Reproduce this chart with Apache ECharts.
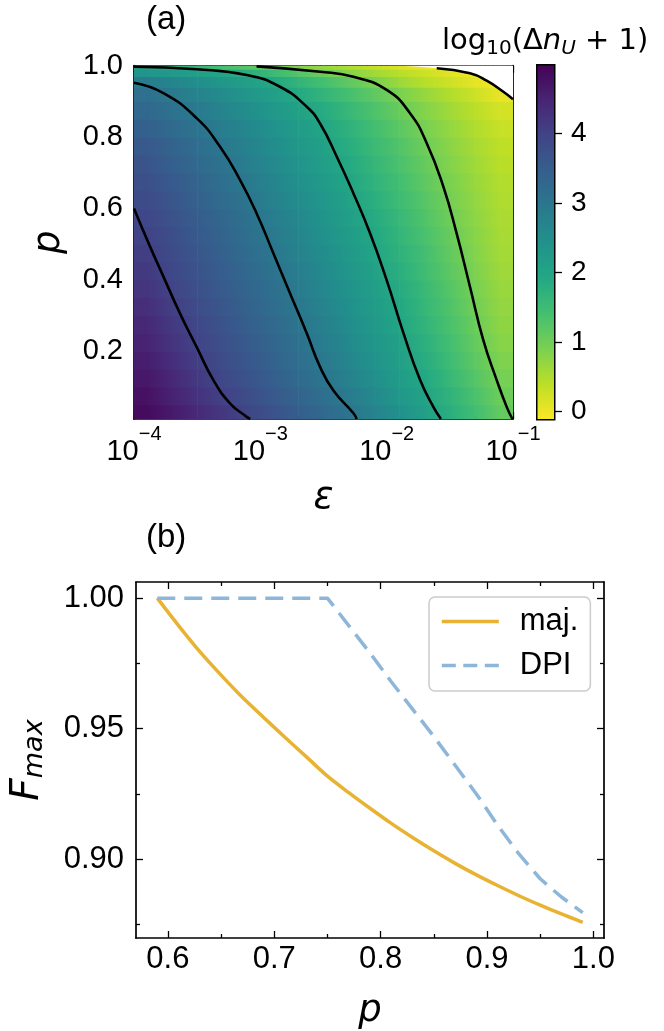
<!DOCTYPE html>
<html><head><meta charset="utf-8">
<script src="https://cdn.jsdelivr.net/npm/echarts@6/dist/echarts.min.js"></script>
<style>html,body{margin:0;padding:0;background:#fff}#c{width:664px;height:1031px}</style>
</head><body><div id="c"></div>
<script>
// ---------------- data ----------------
// panel (a): cell edges of the colour map
const epsEdges = [1.0e-4, 1.585e-4, 2.512e-4, 3.981e-4, 6.310e-4, 1.0e-3, 1.585e-3, 2.512e-3, 3.981e-3, 6.310e-3, 1.0e-2, 1.585e-2, 2.512e-2, 3.981e-2, 6.310e-2, 1.0e-1];
const pEdges = [0.01, 0.05, 0.10, 0.15, 0.20, 0.25, 0.30, 0.35, 0.40, 0.45, 0.50, 0.55, 0.60, 0.65, 0.70, 0.75, 0.80, 0.85, 0.90, 0.94, 0.97, 0.99, 1.00];
// log10(dn_U + 1), one row per p band (bottom to top), one value per eps band
const heatRows = [
  [4.86, 4.63, 4.40, 4.17, 3.94, 3.71, 3.48, 3.26, 3.03, 2.74, 2.44, 2.14, 1.81, 1.47, 1.12],
  [4.77, 4.52, 4.27, 4.02, 3.80, 3.58, 3.36, 3.13, 2.89, 2.61, 2.32, 2.04, 1.71, 1.37, 1.03],
  [4.68, 4.42, 4.16, 3.91, 3.69, 3.46, 3.24, 3.02, 2.75, 2.48, 2.21, 1.93, 1.60, 1.27, 0.95],
  [4.59, 4.33, 4.06, 3.83, 3.61, 3.39, 3.17, 2.94, 2.67, 2.41, 2.14, 1.85, 1.52, 1.19, 0.88],
  [4.50, 4.24, 3.98, 3.76, 3.54, 3.32, 3.10, 2.86, 2.60, 2.34, 2.08, 1.77, 1.44, 1.12, 0.81],
  [4.42, 4.15, 3.90, 3.69, 3.47, 3.26, 3.04, 2.79, 2.53, 2.27, 2.01, 1.70, 1.38, 1.06, 0.76],
  [4.33, 4.06, 3.83, 3.62, 3.40, 3.19, 2.97, 2.72, 2.47, 2.21, 1.95, 1.63, 1.32, 1.00, 0.72],
  [4.24, 3.98, 3.76, 3.55, 3.34, 3.13, 2.90, 2.65, 2.40, 2.15, 1.88, 1.57, 1.26, 0.95, 0.68],
  [4.16, 3.91, 3.70, 3.49, 3.28, 3.06, 2.83, 2.58, 2.34, 2.09, 1.81, 1.50, 1.20, 0.90, 0.64],
  [4.07, 3.84, 3.63, 3.42, 3.21, 3.00, 2.76, 2.52, 2.27, 2.03, 1.74, 1.44, 1.14, 0.85, 0.60],
  [3.99, 3.78, 3.57, 3.36, 3.15, 2.93, 2.69, 2.45, 2.21, 1.96, 1.67, 1.38, 1.09, 0.81, 0.57],
  [3.93, 3.72, 3.51, 3.30, 3.09, 2.86, 2.62, 2.38, 2.14, 1.88, 1.60, 1.31, 1.03, 0.77, 0.54],
  [3.85, 3.64, 3.43, 3.23, 3.02, 2.78, 2.54, 2.31, 2.07, 1.80, 1.52, 1.25, 0.97, 0.73, 0.51],
  [3.77, 3.56, 3.36, 3.15, 2.94, 2.70, 2.47, 2.23, 1.99, 1.72, 1.45, 1.18, 0.92, 0.68, 0.48],
  [3.68, 3.47, 3.27, 3.06, 2.84, 2.61, 2.38, 2.15, 1.91, 1.64, 1.37, 1.11, 0.85, 0.63, 0.43],
  [3.58, 3.38, 3.18, 2.97, 2.75, 2.53, 2.30, 2.08, 1.83, 1.56, 1.30, 1.03, 0.79, 0.57, 0.39],
  [3.44, 3.25, 3.06, 2.85, 2.64, 2.42, 2.21, 1.99, 1.73, 1.46, 1.20, 0.94, 0.71, 0.50, 0.31],
  [3.29, 3.10, 2.91, 2.71, 2.50, 2.30, 2.09, 1.86, 1.60, 1.34, 1.08, 0.84, 0.62, 0.42, 0.22],
  [3.12, 2.94, 2.74, 2.54, 2.34, 2.14, 1.92, 1.67, 1.42, 1.17, 0.92, 0.70, 0.49, 0.28, 0.05],
  [2.88, 2.70, 2.51, 2.32, 2.14, 1.93, 1.68, 1.43, 1.17, 0.93, 0.65, 0.45, 0.27, 0.08, -0.05],
  [2.35, 2.24, 2.13, 2.02, 1.80, 1.55, 1.29, 1.04, 0.82, 0.63, 0.45, 0.28, 0.12, -0.03, -0.08],
  [2.03, 1.84, 1.64, 1.44, 1.25, 1.05, 0.87, 0.70, 0.52, 0.35, 0.17, 0.00, -0.05, -0.08, -0.10]
];
const colorMin = -0.11, colorMax = 5.0;
// contour lines [eps, p]
const level4Line = [[1.00e-4,0.600],[1.34e-4,0.493],[1.71e-4,0.409],[2.31e-4,0.306],[3.13e-4,0.212],[4.25e-4,0.119],[5.75e-4,0.054],[7.80e-4,0.016],[8.32e-4,0.010]];
const level3Line = [[1.00e-4,0.952],[1.71e-4,0.923],[3.13e-4,0.853],[4.80e-4,0.773],[6.90e-4,0.680],[9.35e-4,0.586],[1.27e-3,0.474],[1.72e-3,0.362],[2.33e-3,0.250],[2.97e-3,0.156],[3.80e-3,0.089],[5.46e-3,0.026],[5.79e-3,0.010]];
const level2Line = [[1.00e-4,0.997],[3.13e-4,0.990],[7.80e-4,0.974],[1.43e-3,0.941],[2.33e-3,0.885],[2.97e-3,0.838],[4.03e-3,0.745],[5.46e-3,0.642],[7.40e-3,0.530],[1.00e-2,0.399],[1.36e-2,0.250],[1.84e-2,0.119],[2.34e-2,0.044],[2.69e-2,0.010]];
const level1Line = [[9.33e-4,0.998],[2.97e-3,0.983],[5.46e-3,0.969],[1.00e-2,0.932],[1.53e-2,0.867],[2.08e-2,0.782],[2.81e-2,0.661],[3.58e-2,0.530],[4.57e-2,0.380],[5.82e-2,0.231],[7.43e-2,0.119],[8.91e-2,0.044],[9.89e-2,0.010]];
const boundaryLine = [[1.20e-2,1.000],[2.49e-2,0.993],[4.57e-2,0.979],[6.19e-2,0.958],[8.39e-2,0.927],[1.00e-1,0.906]];
// ticks panel (a)
const epsMajorTicks = [1e-4, 1e-3, 1e-2, 1e-1];
const epsMinorTicks = [2e-4,3e-4,4e-4,5e-4,6e-4,7e-4,8e-4,9e-4,2e-3,3e-3,4e-3,5e-3,6e-3,7e-3,8e-3,9e-3,2e-2,3e-2,4e-2,5e-2,6e-2,7e-2,8e-2,9e-2];
const pTicksA = [0.2, 0.4, 0.6, 0.8];
const pLabelsA = [0.2, 0.4, 0.6, 0.8, 1.0];
const cbarTicks = [0, 1, 2, 3, 4];
// panel (b)
const pGrid = [0.59,0.61,0.63,0.65,0.67,0.69,0.71,0.73,0.75,0.77,0.79,0.81,0.83,0.85,0.87,0.89,0.91,0.93,0.95,0.97,0.99];
const majValues = [1.000,0.9895,0.9795,0.9705,0.9620,0.9543,0.9467,0.9393,0.9318,0.9255,0.9195,0.9137,0.9083,0.9032,0.8984,0.8940,0.8899,0.8860,0.8824,0.8790,0.8758];
const dpiValues = [1.000,1.000,1.000,1.000,1.000,1.000,1.000,1.000,1.000,0.9895,0.979,0.968,0.9575,0.947,0.936,0.925,0.913,0.902,0.8925,0.8855,0.8795];
const pTicksB = [0.6, 0.7, 0.8, 0.9, 1.0];
const pMinorB = [0.65, 0.75, 0.85, 0.95];
const fTicks = [0.90, 0.95, 1.00];
const fMinor = [0.875, 0.925, 0.975];

// ---------------- styling ----------------
const viridis = ['#440154','#482475','#414487','#355f8d','#2a788e','#21918c','#22a884','#44bf70','#7ad151','#bddf26','#fde725'];
const viridisR = viridis.slice().reverse();
const TF = 'Liberation Sans, Arial, sans-serif';
const MF = 'DejaVu Sans, sans-serif';
const BLK = '#000';
const nCols = epsEdges.length - 1;

const cells = [];
heatRows.forEach((row, j) => row.forEach((v, i) => cells.push([epsEdges[i], pEdges[j], v, i, j])));

function hidden(o) {
  return Object.assign({
    axisLine: {show: false, onZero: false}, axisTick: {show: false},
    axisLabel: {show: false}, splitLine: {show: false}
  }, o);
}
function tickAxis(o, values, len, withLine) {
  return Object.assign({
    axisLine: {show: !!withLine, onZero: false, lineStyle: {color: BLK, width: 1.7}},
    axisTick: {show: true, inside: true, length: len, customValues: values, lineStyle: {color: BLK, width: 1.3}},
    axisLabel: {show: false}, splitLine: {show: false}
  }, o);
}

const logLabel = {
  show: true, customValues: epsMajorTicks, margin: 5,
  formatter: v => { const e = Math.round(Math.log10(v)); return '{b|10}{s|' + (e < 0 ? '\u2212' + (-e) : e) + '}'; },
  rich: {
    b: {fontFamily: TF, fontSize: 29, color: BLK},
    s: {fontFamily: TF, fontSize: 20, color: BLK, padding: [0, 0, 36, 0]}
  }
};

const gridA = {left: 134, top: 65.7, width: 379, height: 353.3};
const gridB = {left: 131, top: 582, width: 473, height: 356};
const gridC = {left: 536, top: 64, width: 18, height: 355};

const xAxes = [
  // panel a
  tickAxis({gridIndex: 0, type: 'log', logBase: 10, min: 1e-4, max: 1e-1, position: 'bottom',
    axisLabel: logLabel, name: 'ε', nameLocation: 'middle', nameGap: 61,
    nameTextStyle: {fontFamily: MF, fontStyle: 'italic', fontSize: 37, color: BLK}}, epsMajorTicks, 7, true),
  tickAxis({gridIndex: 0, type: 'log', logBase: 10, min: 1e-4, max: 1e-1, position: 'bottom'}, epsMinorTicks, 4, false),
  tickAxis({gridIndex: 0, type: 'log', logBase: 10, min: 1e-4, max: 1e-1, position: 'top'}, epsMajorTicks, 7, true),
  tickAxis({gridIndex: 0, type: 'log', logBase: 10, min: 1e-4, max: 1e-1, position: 'top'}, epsMinorTicks, 4, false),
  // panel b
  tickAxis({gridIndex: 1, type: 'value', min: 0.57, max: 1.01, position: 'bottom',
    axisLabel: {show: true, customValues: pTicksB, margin: 6, fontFamily: TF, fontSize: 31, color: BLK, formatter: v => v.toFixed(1)},
    name: 'p', nameLocation: 'middle', nameGap: 55,
    nameTextStyle: {fontFamily: MF, fontStyle: 'italic', fontSize: 37, color: BLK}}, pTicksB, 7, true),
  tickAxis({gridIndex: 1, type: 'value', min: 0.57, max: 1.01, position: 'bottom'}, pMinorB, 4, false),
  tickAxis({gridIndex: 1, type: 'value', min: 0.57, max: 1.01, position: 'top'}, pTicksB, 7, true),
  tickAxis({gridIndex: 1, type: 'value', min: 0.57, max: 1.01, position: 'top'}, pMinorB, 4, false),
  // colour bar
  hidden({gridIndex: 2, type: 'value', min: 0, max: 1})
];

const yAxes = [
  tickAxis({gridIndex: 0, type: 'value', min: 0.01, max: 1.0, position: 'left',
    axisLabel: {show: true, customValues: pLabelsA, margin: 11, fontFamily: TF, fontSize: 29, color: BLK, formatter: v => v.toFixed(1)},
    name: 'p', nameLocation: 'middle', nameGap: 66, nameRotate: 90,
    nameTextStyle: {fontFamily: MF, fontStyle: 'italic', fontSize: 37, color: BLK}}, pTicksA, 7, true),
  tickAxis({gridIndex: 0, type: 'value', min: 0.01, max: 1.0, position: 'right'}, pTicksA, 7, true),
  tickAxis({gridIndex: 1, type: 'value', min: 0.8698, max: 1.0062, position: 'left',
    axisLabel: {show: true, customValues: fTicks, margin: 12, fontFamily: TF, fontSize: 31, color: BLK, formatter: v => v.toFixed(2)},
    name: '{i|F}{s|max}', nameLocation: 'middle', nameGap: 88, nameRotate: 90,
    nameTextStyle: {rich: {
      i: {fontFamily: MF, fontStyle: 'italic', fontSize: 39, color: BLK},
      s: {fontFamily: MF, fontStyle: 'italic', fontSize: 27, color: BLK, padding: [14, 0, 0, 0]}
    }}}, fTicks, 7, true),
  tickAxis({gridIndex: 1, type: 'value', min: 0.8698, max: 1.0062, position: 'left'}, fMinor, 4, false),
  tickAxis({gridIndex: 1, type: 'value', min: 0.8698, max: 1.0062, position: 'right'}, fTicks, 7, true),
  tickAxis({gridIndex: 1, type: 'value', min: 0.8698, max: 1.0062, position: 'right'}, fMinor, 4, false),
  // colour bar axis
  {gridIndex: 2, type: 'value', min: colorMin, max: colorMax, position: 'right',
    axisLine: {show: false, onZero: false},
    axisTick: {show: true, inside: false, length: 8, customValues: cbarTicks, lineStyle: {color: BLK, width: 1.3}},
    axisLabel: {show: true, customValues: cbarTicks, margin: 17, fontFamily: TF, fontSize: 28, color: BLK},
    splitLine: {show: false}}
];

function contour(data) {
  return {type: 'line', xAxisIndex: 0, yAxisIndex: 0, data: data, symbol: 'none', smooth: 0.5,
    lineStyle: {color: BLK, width: 2.6}, z: 4, silent: true};
}

// colour-map cells: each cell's colour comes from the visualMap; colours are shaded
// between neighbouring cell centres along eps so the map is drawn smoothly
function renderCell(params, api) {
  const i = api.value(3), j = api.value(4);
  const a = api.coord([epsEdges[i], pEdges[j]]);
  const b = api.coord([epsEdges[i + 1], pEdges[j + 1]]);
  const c = api.visual('color');
  const y = b[1] - 0.6, h = a[1] - b[1] + 1.2;
  const xc = (a[0] + b[0]) / 2;
  const kids = [];
  if (i === 0) kids.push({type: 'rect', shape: {x: a[0], y: y, width: xc - a[0] + 0.6, height: h}, style: {fill: c}});
  if (i < nCols - 1) {
    const n = api.coord([epsEdges[i + 2], pEdges[j]]);
    const xn = (b[0] + n[0]) / 2;
    const cn = api.visual('color', params.dataIndexInside + 1);
    kids.push({type: 'rect', shape: {x: xc, y: y, width: xn - xc + 0.6, height: h},
      style: {fill: new echarts.graphic.LinearGradient(0, 0, 1, 0, [{offset: 0, color: c}, {offset: 1, color: cn}])}});
  } else {
    kids.push({type: 'rect', shape: {x: xc, y: y, width: b[0] - xc, height: h}, style: {fill: c}});
  }
  return {type: 'group', children: kids};
}

const series = [
  {type: 'custom', xAxisIndex: 0, yAxisIndex: 0, data: cells, clip: true, z: 1, silent: true,
    encode: {x: 0, y: 1}, renderItem: renderCell},
  {type: 'line', xAxisIndex: 0, yAxisIndex: 0, data: boundaryLine, symbol: 'none', smooth: 0.5,
    lineStyle: {width: 0}, areaStyle: {color: '#ffffff', opacity: 1, origin: 'end'}, z: 2, silent: true},
  contour(level4Line), contour(level3Line), contour(level2Line), contour(level1Line),
  contour(boundaryLine.slice(1)),
  {name: 'maj.', type: 'line', xAxisIndex: 4, yAxisIndex: 2, data: pGrid.map((p, k) => [p, majValues[k]]),
    symbol: 'none', smooth: 0.3, lineStyle: {color: '#e8b232', width: 3.5}, itemStyle: {color: '#e8b232'}, z: 3},
  {name: 'DPI', type: 'line', xAxisIndex: 4, yAxisIndex: 2, data: pGrid.map((p, k) => [p, dpiValues[k]]),
    symbol: 'none', lineStyle: {color: '#8db6d8', width: 3.5, type: [18, 9]}, itemStyle: {color: '#8db6d8'}, z: 4}
];

const chart = echarts.init(document.getElementById('c'), null, {renderer: 'canvas'});
chart.setOption({
  animation: false,
  backgroundColor: '#fff',
  grid: [gridA, gridB, gridC],
  xAxis: xAxes,
  yAxis: yAxes,
  visualMap: {type: 'continuous', show: false, seriesIndex: 0, dimension: 2, min: colorMin, max: colorMax,
    inRange: {color: viridisR}},
  legend: {data: [{name: 'maj.'}, {name: 'DPI', lineStyle: {type: [14, 7.5]}}],
    orient: 'vertical', left: 429, top: 597,
    itemWidth: 57, itemHeight: 14, itemGap: 13, padding: [9, 12, 10, 11],
    itemStyle: {opacity: 0},
    lineStyle: {width: 3.6},
    borderColor: '#cccccc', borderWidth: 1.5, borderRadius: 6, backgroundColor: '#ffffff',
    textStyle: {fontFamily: TF, fontSize: 31, color: BLK, padding: [0, 0, 0, 16], lineHeight: 31}},
  graphic: [
    {type: 'rect', left: gridC.left, top: gridC.top, z: 10, silent: true,
      shape: {width: gridC.width, height: gridC.height},
      style: {fill: new echarts.graphic.LinearGradient(0, 0, 0, 1,
        viridis.map((c, k) => ({offset: k / (viridis.length - 1), color: c}))), stroke: BLK, lineWidth: 1.5}},
    {type: 'text', left: 442, top: 27, z: 10, silent: true,
      style: {text: '{t|log}{sb|10}{t|(Δ}{it|n}{sbi|U}{t| + 1)}',
        rich: {
          t: {fontFamily: MF, fontSize: 29, fill: BLK},
          it: {fontFamily: MF, fontSize: 29, fontStyle: 'italic', fill: BLK},
          sb: {fontFamily: MF, fontSize: 20, fill: BLK, padding: [14, 0, 0, 0]},
          sbi: {fontFamily: MF, fontSize: 20, fontStyle: 'italic', fill: BLK, padding: [14, 0, 0, 0]}
        }}},
    {type: 'text', left: 146, top: 3, z: 10, silent: true,
      style: {text: '(a)', fontFamily: TF, fontSize: 33, fill: BLK}},
    {type: 'text', left: 146, top: 521, z: 10, silent: true,
      style: {text: '(b)', fontFamily: TF, fontSize: 33, fill: BLK}}
  ],
  series: series
});
</script>
</body></html>
